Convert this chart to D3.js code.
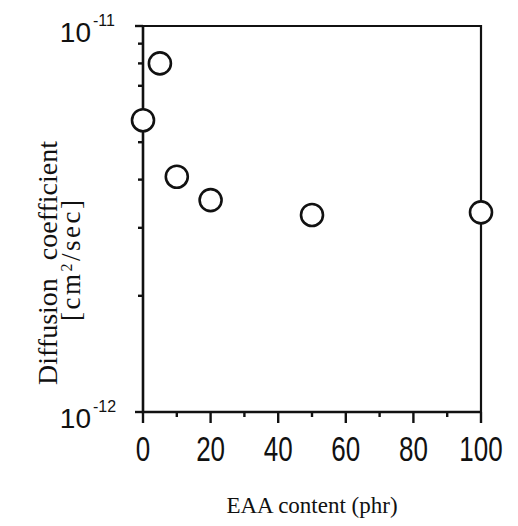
<!DOCTYPE html>
<html>
<head>
<meta charset="utf-8">
<script src="https://cdn.jsdelivr.net/npm/d3@7"></script>
<style>
    body { margin: 0; background: #fff; }
    .tick-label { font-family: "Liberation Sans", Arial, sans-serif; fill: #111; }
    .axis-text { font-family: "Liberation Serif", "Times New Roman", serif; fill: #111; font-variant-ligatures: none; }
    .tick-mark { stroke: #111; stroke-width: 2.4; }
</style>
</head>
<body>
<div id="chart"></div>
<script>
// data (EAA content in phr vs diffusion coefficient in cm^2/sec)
const eaaContent = [0, 5, 10, 20, 50, 100];
const diffusion = [5.7e-12, 8.0e-12, 4.07e-12, 3.54e-12, 3.24e-12, 3.29e-12];

const xMajorTicks = [0, 20, 40, 60, 80, 100];
const xMinorTicks = [10, 30, 50, 70, 90];
const yMajorTicks = [1e-12, 1e-11];
const yMajorLabels = ["-12", "-11"];
const yMinorTicks = [2e-12, 3e-12, 4e-12, 5e-12, 6e-12, 7e-12, 8e-12, 9e-12];

const margin = {top: 26, right: 37, bottom: 114, left: 143};
const width = 518 - margin.left - margin.right;
const height = 526 - margin.top - margin.bottom;

const svg = d3.select("#chart").append("svg")
    .attr("width", 518)
    .attr("height", 526)
    .append("g")
    .attr("transform", `translate(${margin.left},${margin.top})`);

// scales
const x = d3.scaleLinear().domain([0, 100]).range([0, width]);
const y = d3.scaleLog().domain([1e-12, 1e-11]).range([height, 0]);

// frame (top and right)
svg.append("path")
    .attr("d", `M0,0H${width}V${height}`)
    .attr("fill", "none")
    .attr("stroke", "#111")
    .attr("stroke-width", 2.2);

// axis lines
svg.append("path")
    .attr("d", `M0,0V${height}H${width}`)
    .attr("fill", "none")
    .attr("stroke", "#111")
    .attr("stroke-width", 2.6);

// x ticks
const xTicks = svg.append("g").attr("transform", `translate(0,${height})`);
xTicks.selectAll(".major")
    .data(xMajorTicks)
    .join("line")
    .attr("class", "tick-mark major")
    .attr("x1", d => x(d)).attr("x2", d => x(d))
    .attr("y1", 0).attr("y2", 11);
xTicks.selectAll(".minor")
    .data(xMinorTicks)
    .join("line")
    .attr("class", "tick-mark minor")
    .attr("x1", d => x(d)).attr("x2", d => x(d))
    .attr("y1", 0).attr("y2", 5);

// x tick labels, narrow and tall like the original
xTicks.selectAll(".tick-label")
    .data(xMajorTicks)
    .join("text")
    .attr("class", "tick-label")
    .attr("font-size", 26)
    .attr("text-anchor", "middle")
    .attr("transform", d => `translate(${x(d)},49) scale(1,1.35)`)
    .text(d3.format("d"));

// y ticks
svg.selectAll(".ymajor")
    .data(yMajorTicks)
    .join("line")
    .attr("class", "tick-mark ymajor")
    .attr("x1", -8).attr("x2", 0)
    .attr("y1", d => y(d)).attr("y2", d => y(d));
svg.selectAll(".yminor")
    .data(yMinorTicks)
    .join("line")
    .attr("class", "tick-mark yminor")
    .attr("x1", -5).attr("x2", 0)
    .attr("y1", d => y(d)).attr("y2", d => y(d));

// y tick labels as 10^n
yMajorTicks.forEach((v, i) => {
    svg.append("text")
        .attr("class", "tick-label")
        .attr("x", -52)
        .attr("y", y(v) + 16)
        .attr("text-anchor", "end")
        .attr("font-size", 28)
        .text("10");
    svg.append("text")
        .attr("class", "tick-label")
        .attr("x", -50)
        .attr("y", y(v) + 0)
        .attr("font-size", 16)
        .text(yMajorLabels[i]);
});

// axis titles
svg.append("text")
    .attr("class", "axis-text")
    .attr("x", width / 2)
    .attr("y", height + 101)
    .attr("text-anchor", "middle")
    .attr("font-size", 23)
    .text("EAA content (phr)");

const yTitle = svg.append("g")
    .attr("transform", `translate(-86,239)rotate(-90)`);
yTitle.append("text")
    .attr("class", "axis-text")
    .attr("x", -120)
    .attr("y", 0)
    .attr("text-anchor", "start")
    .attr("font-size", 28)
    .text("Diffusion");
yTitle.append("text")
    .attr("class", "axis-text")
    .attr("x", 124)
    .attr("y", 0)
    .attr("text-anchor", "end")
    .attr("font-size", 28)
    .text("coefficient");

// unit line: main text and superscript placed separately
const unitStart = -56;
const unit = yTitle.append("text")
    .attr("class", "axis-text")
    .attr("x", unitStart)
    .attr("y", 23)
    .attr("font-size", 27)
    .attr("letter-spacing", 2.5);
unit.append("tspan").text("[cm");
unit.append("tspan").attr("font-size", 16).attr("baseline-shift", "super").text("2");
unit.append("tspan").text("/sec]");

// points
svg.append("g")
    .selectAll("circle")
    .data(eaaContent.map((d, i) => ({x: d, y: diffusion[i]})))
    .join("circle")
    .attr("cx", d => x(d.x))
    .attr("cy", d => y(d.y))
    .attr("r", 11)
    .attr("fill", "#fff")
    .attr("stroke", "#111")
    .attr("stroke-width", 2.6);
</script>
</body>
</html>
